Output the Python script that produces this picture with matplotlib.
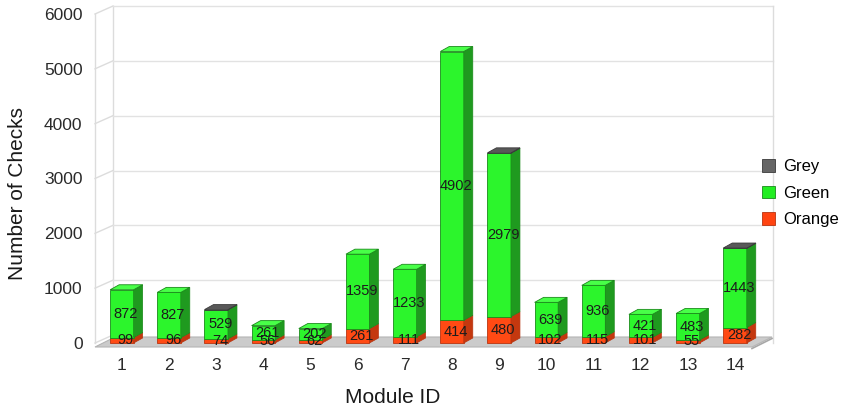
import matplotlib
matplotlib.use('Agg')
import matplotlib.pyplot as plt
from matplotlib.patches import Polygon, Patch

# ---------------- data ----------------
modules = list(range(1, 15))
orange = [99, 96, 74, 56, 62, 261, 111, 414, 480, 102, 115, 101, 55, 282]
green = [872, 827, 529, 261, 202, 1359, 1233, 4902, 2979, 639, 936, 421, 483, 1443]
grey = [0, 0, 6, 0, 0, 0, 0, 0, 9, 0, 0, 0, 0, 7]
yticks = [0, 1000, 2000, 3000, 4000, 5000, 6000]

# ---------------- style ----------------
plt.rcParams['font.family'] = ['Liberation Sans', 'DejaVu Sans']
styles = {
    'Orange': dict(front='#ff4a14', side='#c4380f', top='#ff6a3c', edge='#b83410', leg='#ff4411'),
    'Green': dict(front='#2cf52c', side='#1f9a1f', top='#48ff48', edge='#1a8a1a', leg='#22ee22'),
    'Grey': dict(front='#6a6a6a', side='#444444', top='#585858', edge='#3a3a3a', leg='#666666'),
}
series = [('Orange', orange), ('Green', green), ('Grey', grey)]

W, H = 843, 411
fig = plt.figure(figsize=(W / 100, H / 100), dpi=100)
ax_l, ax_r, ax_b, ax_t = 95, 752, 343, 14
ax = fig.add_axes([ax_l / W, 1 - ax_b / H, (ax_r - ax_l) / W, (ax_b - ax_t) / H])
x0, x1 = 0.43, 14.36
ax.set_xlim(x0, x1)
ax.set_ylim(0, 6000)
ux = (x1 - x0) / (ax_r - ax_l)   # data units per pixel
uy = 6000 / (ax_b - ax_t)

for sp in ax.spines.values():
    sp.set_visible(False)
ax.set_facecolor('none')

# ---------------- walls / floor ----------------
wall_c = '#dcdcdc'
wdx, wdy = 18 * ux, 8 * uy
# left wall
ax.plot([x0, x0], [0, 6000], color=wall_c, lw=1, clip_on=False, zorder=0)
ax.plot([x0 + wdx, x0 + wdx], [wdy, 6000 + wdy], color=wall_c, lw=1, clip_on=False, zorder=0)
for v in yticks:
    ax.plot([x0, x0 + wdx], [v, v + wdy], color=wall_c, lw=1, clip_on=False, zorder=0)
# back wall grid
bx1 = x1 + 21 * ux
for v in yticks[1:]:
    ax.plot([x0 + wdx, bx1], [v + wdy, v + wdy], color='#e2e2e2', lw=1, clip_on=False, zorder=0)
ax.plot([bx1, bx1], [0, 6000 + wdy], color=wall_c, lw=1, clip_on=False, zorder=0)
# floor
fy = -4 * uy
fdx, fdy = 20 * ux, 10 * uy
floor = Polygon([(x0, fy), (x1, fy), (x1 + fdx, fy + fdy), (x0 + fdx, fy + fdy)],
                closed=True, facecolor='#cbcbcb', edgecolor='#b4b4b4', lw=0.8,
                clip_on=False, zorder=1)
ax.add_patch(floor)
ax.plot([x1, x1 + fdx], [fy - 1.5 * uy, fy + fdy - 1.5 * uy], color='#a8a8a8', lw=1.2,
        clip_on=False, zorder=1)

# ---------------- bars ----------------
bw = 23.5 * ux
bdx, bdy = 9 * ux, 5 * uy
bottoms = [0.0] * len(modules)
top_color = [None] * len(modules)
for name, vals in series:
    st = styles[name]
    xs = [m for m, v in zip(modules, vals) if v > 0]
    hs = [v for v in vals if v > 0]
    bs = [b for b, v in zip(bottoms, vals) if v > 0]
    ax.bar(xs, hs, bw, bottom=bs, color=st['front'], edgecolor=st['edge'], lw=0.6,
           zorder=3, clip_on=False)
    for i, (m, v) in enumerate(zip(modules, vals)):
        if v <= 0:
            continue
        b = bottoms[i]
        xr = m + bw / 2
        side = Polygon([(xr, b), (xr + bdx, b + bdy), (xr + bdx, b + v + bdy), (xr, b + v)],
                       closed=True, facecolor=st['side'], edgecolor=st['edge'], lw=0.5,
                       zorder=3, clip_on=False)
        ax.add_patch(side)
        top_color[i] = st
    if name != 'Grey':
        for i, (m, v) in enumerate(zip(modules, vals)):
            ax.text(m + 4 * ux, bottoms[i] + v / 2, str(v), ha='center', va='center',
                    fontsize=10.5, color='#1c1c1c', zorder=6, clip_on=False)
    bottoms = [b + v for b, v in zip(bottoms, vals)]

for i, m in enumerate(modules):
    st = top_color[i]
    T = bottoms[i]
    xl, xr = m - bw / 2, m + bw / 2
    top = Polygon([(xl, T), (xr, T), (xr + bdx, T + bdy), (xl + bdx, T + bdy)],
                  closed=True, facecolor=st['top'], edgecolor=st['edge'], lw=0.6,
                  zorder=4, clip_on=False)
    ax.add_patch(top)

# ---------------- axes text ----------------
ax.set_yticks(yticks)
ax.set_yticklabels([str(v) for v in yticks])
ax.tick_params(axis='y', length=0, pad=9, labelsize=12.5, labelcolor='#2a2a2a')
ax.set_xticks(modules)
ax.set_xticklabels([str(m) for m in modules])
ax.tick_params(axis='x', length=0, pad=11, labelsize=12.5, labelcolor='#2a2a2a')

fig.text(393 / W, 1 - 397 / H, 'Module ID', fontsize=15, color='#1a1a1a',
         ha='center', va='center')
fig.text(18 / W, 1 - 193 / H, 'Number of Checks', fontsize=15, color='#1a1a1a',
         ha='center', va='center', rotation=90)

handles = [Patch(facecolor=styles[n]['leg'], edgecolor=styles[n]['edge'], lw=0.6)
           for n in ['Grey', 'Green', 'Orange']]
fig.legend(handles, ['Grey', 'Green', 'Orange'], loc='upper left',
           bbox_to_anchor=(762 / W, 1 - 159 / H), frameon=False, fontsize=12,
           handlelength=0.8, handleheight=0.8, handletextpad=0.45,
           labelspacing=0.68, borderpad=0, borderaxespad=0)

fig.savefig('out.png', dpi=100)
